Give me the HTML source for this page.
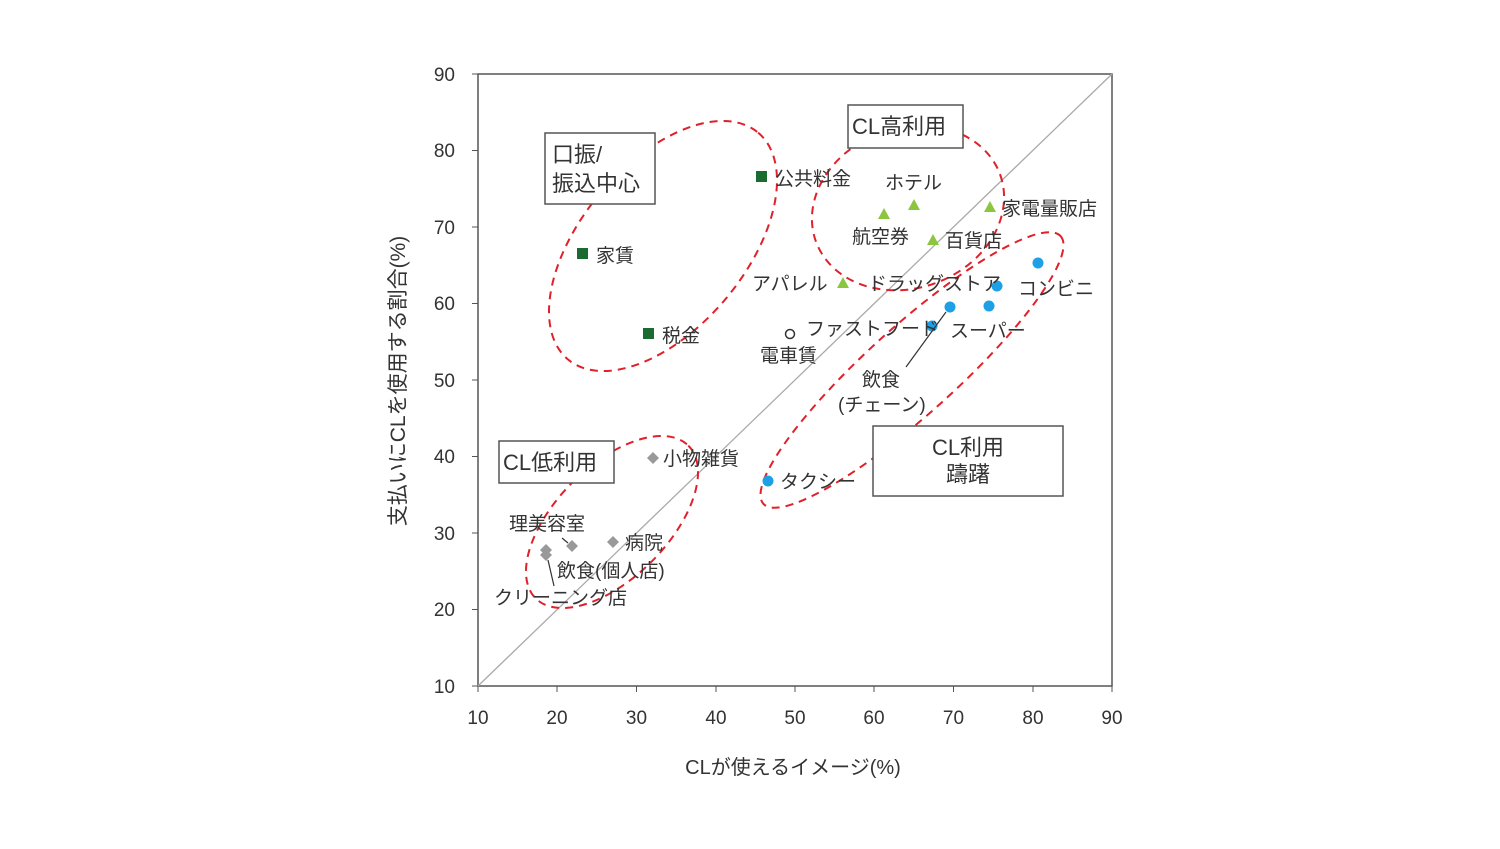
<!DOCTYPE html>
<html><head><meta charset="utf-8"><style>
html,body{margin:0;padding:0;background:#fff;}
svg text{font-family:"Liberation Sans","Noto Sans CJK JP",sans-serif;fill:#333;}
</style></head><body>
<svg width="1500" height="844" viewBox="0 0 1500 844" xmlns="http://www.w3.org/2000/svg">
<rect width="1500" height="844" fill="#fff"/>
<rect x="478" y="74" width="634" height="612" fill="none" stroke="#555" stroke-width="1.5"/>
<line x1="478" y1="686" x2="1112" y2="74" stroke="#aaa" stroke-width="1.3"/>
<g stroke="#555" stroke-width="1">
<line x1="472" y1="74" x2="478" y2="74"/><line x1="472" y1="150.5" x2="478" y2="150.5"/><line x1="472" y1="227" x2="478" y2="227"/><line x1="472" y1="303.5" x2="478" y2="303.5"/><line x1="472" y1="380" x2="478" y2="380"/><line x1="472" y1="456.5" x2="478" y2="456.5"/><line x1="472" y1="533" x2="478" y2="533"/><line x1="472" y1="609.5" x2="478" y2="609.5"/><line x1="472" y1="686" x2="478" y2="686"/>
<line x1="478" y1="686" x2="478" y2="692"/><line x1="557" y1="686" x2="557" y2="692"/><line x1="636.5" y1="686" x2="636.5" y2="692"/><line x1="716" y1="686" x2="716" y2="692"/><line x1="795" y1="686" x2="795" y2="692"/><line x1="874" y1="686" x2="874" y2="692"/><line x1="953.5" y1="686" x2="953.5" y2="692"/><line x1="1033" y1="686" x2="1033" y2="692"/><line x1="1112" y1="686" x2="1112" y2="692"/>
</g>
<g font-size="19" text-anchor="end">
<text x="455" y="81">90</text><text x="455" y="157">80</text><text x="455" y="234">70</text><text x="455" y="310">60</text><text x="455" y="387">50</text><text x="455" y="463">40</text><text x="455" y="540">30</text><text x="455" y="616">20</text><text x="455" y="693">10</text>
</g>
<g font-size="19" text-anchor="middle">
<text x="478" y="724">10</text><text x="557" y="724">20</text><text x="636.5" y="724">30</text><text x="716" y="724">40</text><text x="795" y="724">50</text><text x="874" y="724">60</text><text x="953.5" y="724">70</text><text x="1033" y="724">80</text><text x="1112" y="724">90</text>
</g>
<text x="793" y="774" font-size="20" text-anchor="middle">CLが使えるイメージ(%)</text>
<text transform="translate(405,381) rotate(-90)" font-size="21" text-anchor="middle">支払いにCLを使用する割合(%)</text>
<g fill="none" stroke="#e0202a" stroke-width="2" stroke-dasharray="8,6">
<ellipse cx="663" cy="246" rx="148" ry="82" transform="rotate(-50 663 246)"/>
<ellipse cx="908" cy="208" rx="98" ry="80" transform="rotate(-20 908 208)"/>
<ellipse cx="912" cy="370" rx="200" ry="44" transform="rotate(-42 912 370)"/>
<ellipse cx="612" cy="522" rx="108" ry="56" transform="rotate(-45 612 522)"/>
</g>
<g fill="#fff" stroke="#555" stroke-width="1.5">
<rect x="545" y="133" width="110" height="71"/>
<rect x="848" y="105" width="115" height="43"/>
<rect x="499" y="441" width="115" height="42"/>
<rect x="873" y="426" width="190" height="70"/>
</g>
<g font-size="22">
<text x="552" y="162">口振/</text><text x="552" y="191">振込中心</text>
<text x="852" y="134">CL高利用</text>
<text x="503" y="470">CL低利用</text>
<text x="968" y="455" text-anchor="middle">CL利用</text><text x="968" y="482" text-anchor="middle">躊躇</text>
</g>
<g fill="#1a6b32">
<rect x="756" y="171" width="11" height="11"/><rect x="577" y="248" width="11" height="11"/><rect x="643" y="328" width="11" height="11"/>
</g>
<g fill="#8cc63f">
<polygon points="914,199 920,210 908,210"/><polygon points="884,208 890,219 878,219"/><polygon points="990,201 996,212 984,212"/><polygon points="933,234 939,245 927,245"/><polygon points="843,277 849,288 837,288"/>
</g>
<g fill="#1ea0e6">
<circle cx="1038" cy="263" r="5.5"/><circle cx="997" cy="286" r="5.5"/><circle cx="950" cy="307" r="5.5"/><circle cx="989" cy="306" r="5.5"/><circle cx="932" cy="326" r="5.5"/><circle cx="768" cy="481" r="5.5"/>
</g>
<circle cx="790" cy="334" r="4.5" fill="#fff" stroke="#333" stroke-width="1.5"/>
<g fill="#999">
<polygon points="653,452 659,458 653,464 647,458"/><polygon points="613,536 619,542 613,548 607,542"/><polygon points="572,540 578,546 572,552 566,546"/><polygon points="546,544 552,550 546,556 540,550"/><polygon points="546,549 552,555 546,561 540,555"/>
</g>
<g stroke="#333" stroke-width="1.2">
<line x1="946" y1="312" x2="906" y2="367"/>
<line x1="548" y1="560" x2="554" y2="586"/>
<line x1="562" y1="538" x2="568" y2="543"/>
</g>
<g font-size="19">
<text x="775" y="185">公共料金</text><text x="596" y="262">家賃</text><text x="662" y="342">税金</text>
<text x="885" y="189">ホテル</text><text x="1002" y="215">家電量販店</text><text x="852" y="243">航空券</text><text x="945" y="247">百貨店</text>
<text x="752" y="290">アパレル</text><text x="868" y="290">ドラッグストア</text><text x="1018" y="295">コンビニ</text>
<text x="806" y="335">ファストフード</text><text x="950" y="337">スーパー</text><text x="760" y="362">電車賃</text>
<text x="862" y="386">飲食</text><text x="838" y="411">(チェーン)</text>
<text x="780" y="488">タクシー</text><text x="663" y="465">小物雑貨</text>
<text x="509" y="530">理美容室</text><text x="625" y="549">病院</text><text x="557" y="577">飲食(個人店)</text><text x="494" y="604">クリーニング店</text>
</g>
</svg>
</body></html>
